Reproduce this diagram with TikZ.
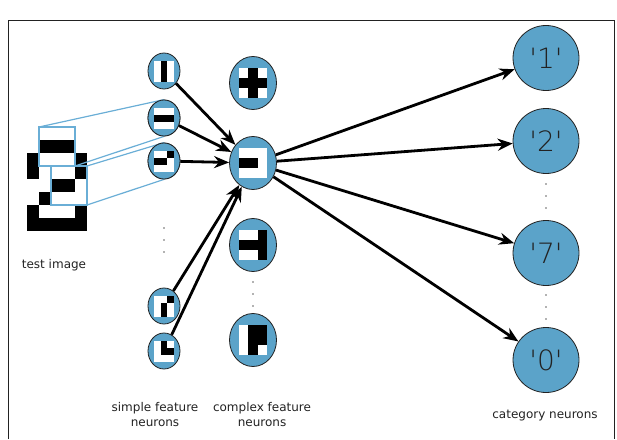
\documentclass[tikz,border=0pt]{standalone}
\usepackage{fontspec}
\setmainfont{DejaVu Sans}
\newfontfamily\thinfont[Ligatures=TeXOff]{DejaVu Sans ExtraLight}
\usetikzlibrary{arrows.meta, shapes.geometric}

\begin{document}
\begin{tikzpicture}[x=1pt, y=-1pt]
    % Define colors
    \definecolor{borderColour}{HTML}{222222}
    \definecolor{neuronColour}{HTML}{5BA3C9}
    \definecolor{fieldColour}{HTML}{6AAED6}
    \definecolor{dotColour}{HTML}{666666}

    % Define styles
    \tikzset{
        neuron/.style={ellipse, draw=borderColour, fill=neuronColour, line width=0.8pt, inner sep=0pt},
        simple/.style={neuron, minimum width=32pt, minimum height=36pt},
        complex/.style={neuron, minimum width=47pt, minimum height=53pt},
        category/.style={neuron, minimum width=66pt, minimum height=65pt, font=\thinfont\fontsize{28}{28}\selectfont, text=borderColour},
        field/.style={draw=fieldColour, line width=1.4pt, minimum width=36pt, minimum height=39pt, inner sep=0pt, outer sep=0pt},
        link/.style={draw=fieldColour, line width=1.2pt},
        conn/.style={line width=2.8pt, -{Stealth[length=15pt, width=12pt]}},
        caption/.style={font=\fontsize{12}{15}\selectfont, align=center, text=borderColour}
    }

    % Pattern of black pixels: node, cell width, cell height, cells col/row
    \def\drawPattern#1#2#3#4{%
        \begin{scope}[shift={(#1)}]
            \fill[white] (-1.5*#2,-1.5*#3) rectangle (1.5*#2,1.5*#3);
            \foreach \c/\r in {#4}
                \fill[black] ({(\c-2.5)*#2},{(\r-2.5)*#3}) rectangle ++(#2,#3);
        \end{scope}}

    % Fix the bounding box
    \useasboundingbox (0,0) rectangle (617,439);

    % Draw frame
    \draw[borderColour, line width=1pt] (8,439) -- (8,20) -- (614,20) -- (614,439);

    % Draw test image
    \foreach \c/\r in {2/1,3/1,4/1,1/2,5/2,1/3,5/3,3/4,4/4,2/5,1/6,5/6,1/7,2/7,3/7,4/7,5/7}
        \fill[black] (15+12*\c,127+13*\r) rectangle ++(12,13);
    \node[field] (f1) at (57,146.5) {};
    \node[field] (f2) at (69,185.5) {};
    \node[caption] (testLabel) at (54,265) {test image};

    % Simple feature neurons
    \node[simple] (s1) at (164,71) {};
    \node[simple] (s2) at (164,118) {};
    \node[simple] (s3) at (164,161) {};
    \node[simple] (s4) at (164,306) {};
    \node[simple] (s5) at (164,351) {};

    % Receptive fields
    \draw[link] (f1.north west) -- (s2.north);
    \draw[link] (f1.south east) -- (s2.south);
    \draw[link] (f2.north east) -- (s3.north);
    \draw[link] (f2.south east) -- (s3.south);
    \node[simple] at (s2) {};
    \node[simple] at (s3) {};

    \drawPattern{s1}{6.7}{7}{2/1,2/2,2/3}
    \drawPattern{s2}{6.7}{7}{1/2,2/2,3/2}
    \drawPattern{s3}{6.7}{7}{3/1,1/2,2/2}
    \drawPattern{s4}{6.7}{7}{3/1,2/2,2/3}
    \drawPattern{s5}{6.7}{7}{2/1,2/2,3/2}

    % Complex feature neurons
    \node[complex] (c1) at (253,83) {};
    \node[complex] (c2) at (253,163) {};
    \node[complex] (c3) at (253,245) {};
    \node[complex] (c4) at (253,340) {};

    \drawPattern{c1}{9.3}{9.7}{2/1,1/2,2/2,3/2,2/3}
    \drawPattern{c2}{9.3}{9.7}{1/2,2/2}
    \drawPattern{c3}{9.3}{9.7}{3/1,1/2,2/2,3/2,3/3}
    \drawPattern{c4}{9.3}{9.7}{2/1,3/1,2/2,3/2,2/3}

    % Category neurons
    \node[category] (n1) at (546,58) {'1'};
    \node[category] (n2) at (546,141) {'2'};
    \node[category] (n7) at (546,253) {'7'};
    \node[category] (n0) at (546,360) {'0'};

    % Dots for omitted neurons
    \foreach \y in {228,240,252}
        \fill[dotColour] (164,\y) circle (0.9);
    \foreach \y in {282,294,306}
        \fill[dotColour] (253,\y) circle (0.9);
    \foreach \y in {184,196,208,295,307,319}
        \fill[dotColour] (546,\y) circle (0.9);

    % Draw connections
    \foreach \s in {s1,s2,s3,s4,s5}
        \draw[conn] (\s) -- (c2);
    \foreach \n in {n1,n2,n7,n0}
        \draw[conn] (c2) -- (\n);

    % Labels
    \node[caption] (simpleLabel) at (155,415) {simple feature\\neurons};
    \node[caption] (complexLabel) at (262,415) {complex feature\\neurons};
    \node[caption] (categoryLabel) at (545,416) {category neurons};

\end{tikzpicture}
\end{document}
